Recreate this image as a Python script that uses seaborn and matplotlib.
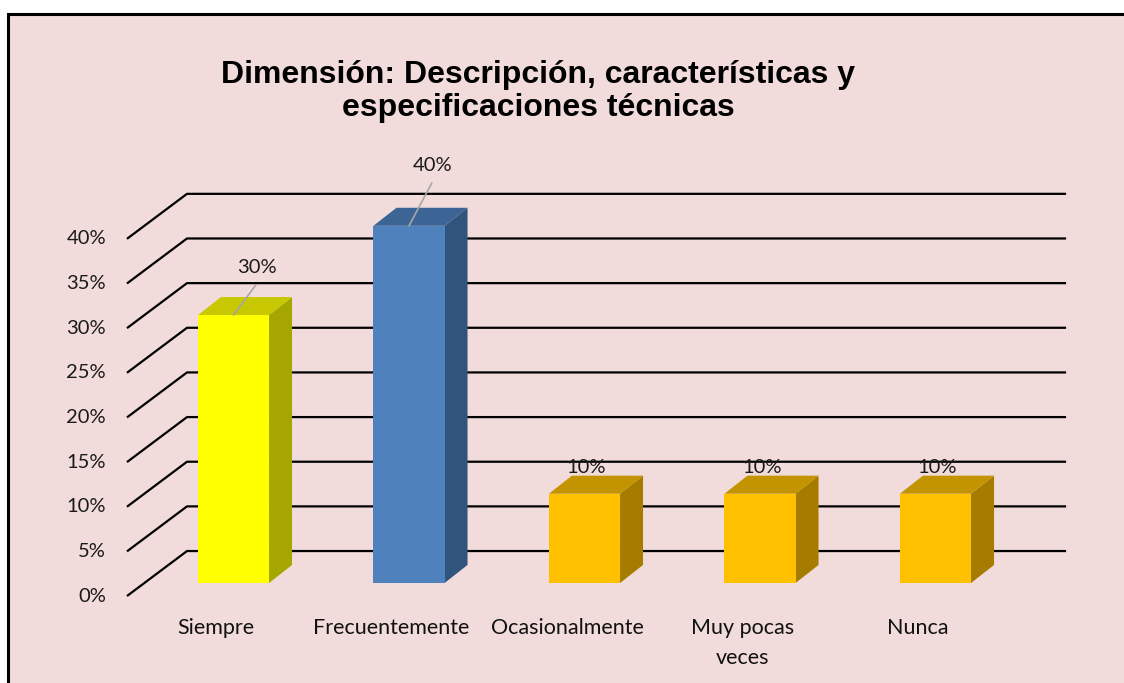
import matplotlib
matplotlib.use("Agg")
import matplotlib.pyplot as plt
from matplotlib.patches import Rectangle
import seaborn as sns

# data
categorias = ['Siempre', 'Frecuentemente', 'Ocasionalmente', 'Muy pocas\nveces', 'Nunca']
porcentajes = [30, 40, 10, 10, 10]
niveles = [0, 5, 10, 15, 20, 25, 30, 35, 40]

# colours: front, top, side
frente = ['#FFFF00', '#4F81BD', '#FFC000', '#FFC000', '#FFC000']
tapa = ['#C8C800', '#3C6494', '#C49300', '#C49300', '#C49300']
lado = ['#A6A600', '#31547D', '#A67C00', '#A67C00', '#A67C00']

# label offsets (x in categories, y in %) and leader flags
lab_dx = [0.135, 0.137, 0.01, 0.01, 0.01]
lab_dy = [5.3, 6.7, 2.9, 2.9, 2.9]
leader = [True, True, False, False, False]

bg = '#F2DCDB'
dx, dy = 0.131, 2.02          # depth of bars
wall_dy = 3.58                # back wall offset from bar base
front_dy = -1.46              # front floor edge
x_front, x_back, x_right = -0.607, -0.265, 4.744

sns.set_theme(style='white')
plt.rcParams['font.family'] = ['Lato', 'DejaVu Sans']

fig = plt.figure(figsize=(11.24, 6.83), dpi=100)
fig.patch.set_facecolor('white')
fig.patches.append(Rectangle((8 / 1124, -0.1), 1.1, 1.1 - 14 / 683, transform=fig.transFigure,
                             facecolor=bg, edgecolor='black', lw=2.2, zorder=-5))

ax = fig.add_axes([0, 0, 1, 1])
ax.set_facecolor('none')
ax.set_zorder(1)

# back wall gridlines with the left diagonal
for L in niveles:
    ax.plot([x_front, x_back, x_right], [L + front_dy, L + wall_dy, L + wall_dy],
            color='black', lw=1.6, solid_capstyle='butt', zorder=1)
    ax.text(-0.7265, L + front_dy, f'{L}%', ha='right', va='center', fontsize=14.5, color='#1a1a1a')

sns.barplot(x=list(range(len(categorias))), y=porcentajes, hue=list(range(len(categorias))),
            palette=frente, width=0.405, legend=False, ax=ax, saturation=1,
            edgecolor='none', zorder=3)

for i, p in enumerate(ax.patches):
    x0 = p.get_x()
    x1 = x0 + p.get_width()
    v = p.get_height()
    ax.fill([x1, x1 + dx, x1 + dx, x1], [0, dy, v + dy, v], color=lado[i], zorder=2, lw=0)
    ax.fill([x0, x0 + dx, x1 + dx, x1], [v, v + dy, v + dy, v], color=tapa[i], zorder=2, lw=0)
    xc = x0 + p.get_width() / 2
    if leader[i]:
        ax.plot([xc, xc + lab_dx[i] * 0.95], [v, v + lab_dy[i] - 1.9], color='#A6A6A6', lw=1.2, zorder=4)
    ax.text(xc + lab_dx[i], v + lab_dy[i], f'{porcentajes[i]}%', ha='center', va='center',
            fontsize=14.5, color='#1a1a1a', zorder=5)

for i, c in enumerate(categorias):
    ax.text(i - 0.1, -3.95, c, ha='center', va='top', fontsize=15.5,
            color='#111111', linespacing=1.6)

ax.set_xlim(-1.3305, 5.074)
ax.set_ylim(-11.198, 65.286)
ax.axis('off')

fig.text(538 / 1124, 1 - 75 / 683, 'Dimensión: Descripción, características y',
         ha='center', va='center', fontsize=23, fontweight='bold', family='Liberation Sans', color='black')
fig.text(538 / 1124, 1 - 108 / 683, 'especificaciones técnicas',
         ha='center', va='center', fontsize=23, fontweight='bold', family='Liberation Sans', color='black')

fig.savefig('out.png', dpi=100)
